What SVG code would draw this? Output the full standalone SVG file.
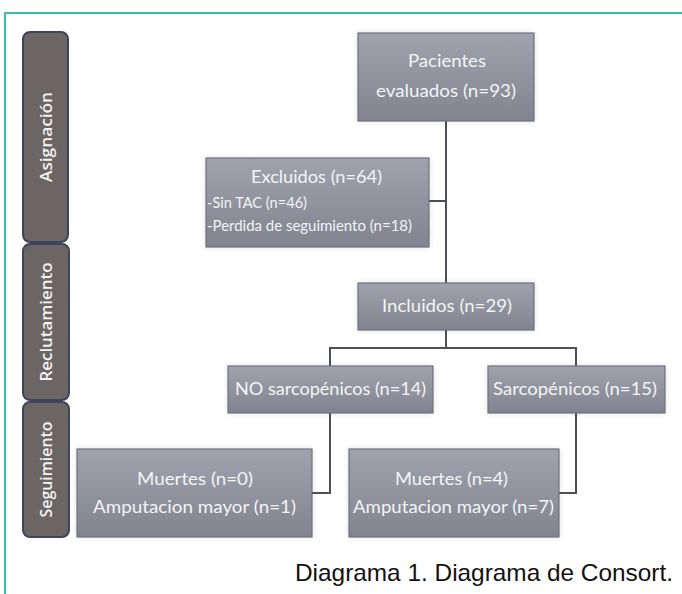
<svg xmlns="http://www.w3.org/2000/svg" width="682" height="594" viewBox="0 0 682 594">
<defs>
<linearGradient id="boxg" x1="0" y1="0" x2="0" y2="1">
<stop offset="0" stop-color="#a0a3ad"/>
<stop offset="1" stop-color="#81848f"/>
</linearGradient>
<filter id="glow" x="-10%" y="-10%" width="120%" height="120%">
<feGaussianBlur in="SourceAlpha" stdDeviation="3"/>
<feComponentTransfer><feFuncA type="linear" slope="0.12"/></feComponentTransfer>
<feMerge><feMergeNode/><feMergeNode in="SourceGraphic"/></feMerge>
</filter>
</defs>
<style>
.frame{fill:none;stroke:#3dbdb0;stroke-width:2}
.lane{fill:#6b6664;stroke:#3e4459;stroke-width:2}
.lanet{font-family:"Open Sans",sans-serif;font-size:17px;font-weight:600;fill:#f2f2f2;text-anchor:middle}
.box{fill:url(#boxg);stroke:#6f727c;stroke-width:1.2;filter:url(#glow)}
.t{font-family:Lato,"Open Sans",sans-serif;font-size:17.5px;fill:#f4f4f4;text-anchor:middle}
.ts{font-family:Lato,"Open Sans",sans-serif;font-size:14.5px;fill:#f4f4f4}
.c{fill:none;stroke:#4c4f58;stroke-width:2}
.cap{font-family:"Liberation Sans",Arial,sans-serif;font-size:24px;fill:#111}
</style>
<rect width="682" height="594" fill="#ffffff"/>
<path class="frame" d="M5 594 V13 H682"/>

<g id="lane-asignacion">
<rect class="lane" x="23" y="32" width="45" height="210" rx="7"/>
<text class="lanet" x="46" y="143" transform="rotate(-90 46 137)" textLength="90" lengthAdjust="spacingAndGlyphs">Asignación</text>
</g>
<g id="lane-reclutamiento">
<rect class="lane" x="23" y="244" width="46" height="156" rx="7"/>
<text class="lanet" x="46" y="328" transform="rotate(-90 46 322)" textLength="119" lengthAdjust="spacingAndGlyphs">Reclutamiento</text>
</g>
<g id="lane-seguimiento">
<rect class="lane" x="23" y="402" width="46" height="135" rx="7"/>
<text class="lanet" x="46" y="475.5" transform="rotate(-90 46 469.5)" textLength="96" lengthAdjust="spacingAndGlyphs">Seguimiento</text>
</g>

<g id="connectors">
<path class="c" d="M446 121 V283"/>
<path class="c" d="M429 201 H446"/>
<path class="c" d="M446 330 V348"/>
<path class="c" d="M330 366 V348 H576 V366"/>
<path class="c" d="M330 413 V493 H312"/>
<path class="c" d="M576 413 V493 H559"/>
</g>

<g id="pacientes">
<rect class="box" x="358" y="33" width="176" height="88"/>
<text class="t" x="447" y="67" textLength="78" lengthAdjust="spacingAndGlyphs">Pacientes</text>
<text class="t" x="446" y="97" textLength="140" lengthAdjust="spacingAndGlyphs">evaluados (n=93)</text>
</g>

<g id="excluidos">
<rect class="box" x="206" y="158" width="223" height="89"/>
<text class="t" x="316.5" y="183" textLength="131" lengthAdjust="spacingAndGlyphs">Excluidos (n=64)</text>
<text class="ts" x="207" y="208" textLength="100" lengthAdjust="spacingAndGlyphs">-Sin TAC (n=46)</text>
<text class="ts" x="207" y="231" textLength="205" lengthAdjust="spacingAndGlyphs">-Perdida de seguimiento (n=18)</text>
</g>

<g id="incluidos">
<rect class="box" x="358" y="283" width="176" height="47"/>
<text class="t" x="447" y="312" textLength="130" lengthAdjust="spacingAndGlyphs">Incluidos (n=29)</text>
</g>

<g id="no-sarcopenicos">
<rect class="box" x="228" y="366" width="205" height="47"/>
<text class="t" x="330.5" y="395" textLength="191" lengthAdjust="spacingAndGlyphs">NO sarcopénicos (n=14)</text>
</g>

<g id="sarcopenicos">
<rect class="box" x="488" y="366" width="177" height="47"/>
<text class="t" x="575" y="395" textLength="164" lengthAdjust="spacingAndGlyphs">Sarcopénicos (n=15)</text>
</g>

<g id="muertes-no">
<rect class="box" x="77" y="449" width="235" height="88"/>
<text class="t" x="195" y="485" textLength="116" lengthAdjust="spacingAndGlyphs">Muertes (n=0)</text>
<text class="t" x="194.5" y="513" textLength="203" lengthAdjust="spacingAndGlyphs">Amputacion mayor (n=1)</text>
</g>

<g id="muertes-si">
<rect class="box" x="349" y="449" width="210" height="88"/>
<text class="t" x="451.5" y="485" textLength="113" lengthAdjust="spacingAndGlyphs">Muertes (n=4)</text>
<text class="t" x="453.5" y="513" textLength="201" lengthAdjust="spacingAndGlyphs">Amputacion mayor (n=7)</text>
</g>

<text class="cap" x="295" y="581" textLength="378" lengthAdjust="spacingAndGlyphs">Diagrama 1. Diagrama de Consort.</text>
</svg>
